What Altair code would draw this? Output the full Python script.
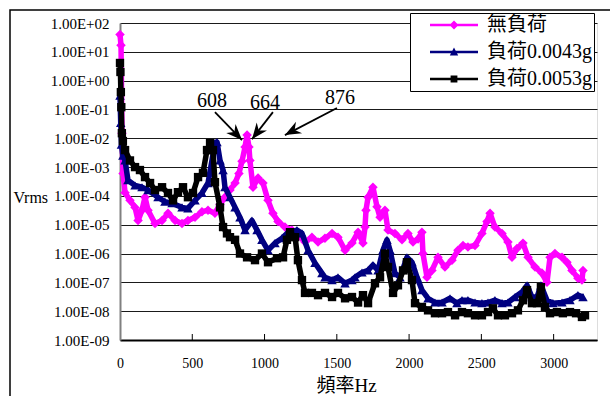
import altair as alt
import pandas as pd

# ---------------- data ----------------
series_names = ["無負荷", "負荷0.0043g", "負荷0.0053g"]
series_colors = ["#FF00FF", "#000080", "#000000"]
series_marks = ["diamond", "triangle-up", "square"]

freq_none = [0, 7, 14, 21, 35, 69, 104, 125, 152, 173, 194, 242, 291, 332, 381, 429, 470, 519, 567,
             609, 657, 692, 726, 761, 796, 823, 844, 865, 879, 892, 899, 920, 955, 989, 1024, 1058,
             1093, 1141, 1190, 1231, 1280, 1328, 1370, 1418, 1467, 1508, 1557, 1605, 1647, 1681,
             1695, 1702, 1716, 1750, 1778, 1799, 1833, 1854, 1902, 1951, 1992, 2027, 2062, 2089,
             2096, 2124, 2158, 2200, 2248, 2297, 2338, 2373, 2407, 2456, 2504, 2539, 2560, 2594,
             2643, 2684, 2712, 2746, 2788, 2823, 2871, 2919, 2954, 2975, 3009, 3058, 3092, 3127,
             3168, 3196, 3203]
vrms_none = [4e1, 1.7e1, 1.5e-2, 6e-4, 1.3e-4, 7e-5, 4e-5, 1.4e-5, 3.2e-5, 9e-5, 3.2e-5, 1.1e-5,
             1.4e-5, 2.5e-5, 1.4e-5, 1.1e-5, 1.4e-5, 1.8e-5, 2.8e-5, 3.2e-5, 2.5e-5, 5e-5, 9e-5,
             1.6e-4, 2.8e-4, 6e-4, 1.6e-3, 5e-3, 1.3e-2, 5e-3, 1.7e-3, 2e-4, 4.2e-4, 2.8e-4, 7e-5,
             2.5e-5, 1.3e-5, 8.3e-6, 6.5e-6, 4.4e-6, 2.5e-6, 3.7e-6, 2.5e-6, 3.4e-6, 5e-6, 3.7e-6,
             1.3e-6, 2.3e-6, 5.5e-6, 2.3e-6, 8.3e-6, 3.2e-5, 9e-5, 2e-4, 4.2e-5, 1.8e-5, 3.2e-5,
             6.5e-6, 5e-6, 3e-6, 5e-6, 2.5e-6, 3.2e-6, 5.5e-6, 1e-6, 1.5e-7, 2.6e-7, 7.4e-7, 3.4e-7,
             5.9e-7, 1.3e-6, 1.9e-6, 1.7e-6, 1.9e-6, 5e-6, 1.3e-5, 2.5e-5, 8.3e-6, 5e-6, 2.5e-6,
             7.4e-7, 1.5e-6, 2.3e-6, 7.4e-7, 3.4e-7, 2.1e-7, 1e-7, 7.4e-7, 1e-6, 7.4e-7, 5e-7,
             2.6e-7, 1.4e-7, 1.2e-7, 2.6e-7]

freq_43 = [0, 5, 10, 20, 35, 55, 104, 152, 194, 263, 311, 360, 429, 470, 519, 567, 609, 657, 671,
           692, 713, 726, 761, 796, 830, 865, 913, 948, 982, 1024, 1072, 1121, 1155, 1224, 1259,
           1301, 1349, 1397, 1418, 1467, 1508, 1557, 1605, 1626, 1674, 1716, 1750, 1785, 1819,
           1847, 1868, 1902, 1937, 1985, 2020, 2055, 2089, 2131, 2179, 2228, 2283, 2331, 2366,
           2407, 2456, 2504, 2546, 2594, 2643, 2684, 2733, 2781, 2816, 2850, 2885, 2912, 2954,
           2995, 3058, 3113, 3168, 3203]
vrms_43 = [3e-1, 3.4e-2, 6e-3, 2.5e-3, 1.7e-3, 3.5e-4, 2.3e-4, 2e-4, 1.6e-4, 9e-5, 6.3e-5, 5.6e-5,
           4e-5, 3.7e-5, 7e-5, 1.26e-4, 2.8e-4, 6.8e-3, 7.4e-3, 1.7e-3, 7.9e-4, 2e-4, 9e-5, 4e-5,
           1.8e-5, 6.5e-6, 1.4e-5, 6.5e-6, 3e-6, 1.3e-6, 2.3e-6, 3.4e-6, 5e-6, 6.5e-6, 5e-6,
           1.3e-6, 4.7e-7, 2.1e-7, 1.5e-7, 1.2e-7, 1.5e-7, 9.3e-8, 1.2e-7, 1.5e-7, 2.2e-7, 2.6e-7,
           4e-7, 2.6e-7, 1.3e-6, 3e-6, 1.3e-6, 2.1e-7, 1.5e-7, 7.4e-7, 5e-7, 1.5e-7, 5.4e-8,
           2.8e-8, 2e-8, 2e-8, 2.8e-8, 1.9e-8, 2.4e-8, 2.4e-8, 2e-8, 1.9e-8, 2e-8, 2.4e-8, 1.9e-8,
           2e-8, 3.1e-8, 4.6e-8, 7.9e-8, 3.1e-8, 3.1e-8, 7.9e-8, 2.4e-8, 1.9e-8, 2e-8, 2.4e-8,
           3.6e-8, 3.1e-8]

freq_53 = [0, 3, 6, 9, 13, 20, 35, 69, 104, 138, 173, 208, 242, 291, 332, 367, 401, 436, 470, 505,
           540, 574, 602, 623, 643, 657, 692, 713, 740, 761, 796, 830, 879, 934, 982, 1024, 1086,
           1128, 1155, 1176, 1211, 1231, 1259, 1280, 1328, 1370, 1418, 1467, 1508, 1557, 1605,
           1647, 1681, 1716, 1764, 1799, 1833, 1854, 1889, 1923, 1958, 1985, 2020, 2041, 2089,
           2131, 2179, 2228, 2269, 2318, 2366, 2407, 2456, 2504, 2546, 2580, 2615, 2663, 2712,
           2753, 2788, 2816, 2850, 2885, 2912, 2940, 2975, 3023, 3064, 3113, 3155, 3196, 3217]
vrms_53 = [4.1, 2.0, 4e-1, 1.2e-1, 1.5e-2, 8e-3, 3.9e-3, 1.7e-3, 1e-3, 7.9e-4, 4.5e-4, 2.8e-4,
           1.6e-4, 2e-4, 1.26e-4, 7e-5, 1.35e-4, 2e-4, 9e-5, 1.26e-4, 4.5e-4, 6.3e-4, 3.9e-3,
           6.8e-3, 3.9e-3, 3e-4, 4e-5, 8.3e-6, 5e-6, 3.7e-6, 3e-6, 1e-6, 7.4e-7, 5.9e-7, 1e-6,
           5e-7, 6.9e-7, 7.4e-7, 3e-6, 5.5e-6, 3.7e-6, 5.9e-7, 1.2e-7, 4.3e-8, 4.3e-8, 3.6e-8,
           4.3e-8, 3.1e-8, 4.3e-8, 2.8e-8, 3.1e-8, 2e-8, 3.6e-8, 1.9e-8, 9.3e-8, 1.5e-7, 1e-6,
           3.4e-7, 4.3e-8, 7.9e-8, 2.6e-7, 5e-7, 1.2e-7, 1.9e-8, 1.4e-8, 1.07e-8, 8.5e-9, 8.5e-9,
           9.3e-9, 7.2e-9, 9.3e-9, 8.5e-9, 7.2e-9, 7.2e-9, 9.3e-9, 1.26e-8, 7.2e-9, 7.2e-9,
           8.5e-9, 1.07e-8, 2.4e-8, 5.4e-8, 1.9e-8, 1.9e-8, 6.8e-8, 1.4e-8, 8.5e-9, 9.3e-9,
           8.5e-9, 9.3e-9, 8.5e-9, 6.3e-9, 7.2e-9]

x_tick_values = [0, 500, 1000, 1500, 2000, 2500, 3000]
y_tick_values = [1e-9, 1e-8, 1e-7, 1e-6, 1e-5, 1e-4, 1e-3, 1e-2, 1e-1, 1e0, 1e1, 1e2]

ann_labels = ["608", "664", "876"]
ann_freq = [636, 1003, 1522]
ann_vrms = [0.196, 0.167, 0.249]

arrow_start_freq = [657, 1058, 1501]
arrow_start_vrms = [0.081, 0.081, 0.112]
arrow_tip_freq = [844, 913, 1141]
arrow_tip_vrms = [8.7e-3, 9.3e-3, 1.29e-2]
arrow_angle = [136, 218, 242]

# ---------------- build ----------------
FONT = "Liberation Serif, Noto Sans CJK TC"

rows = []
for name, fs, vs in [(series_names[0], freq_none, vrms_none),
                     (series_names[1], freq_43, vrms_43),
                     (series_names[2], freq_53, vrms_53)]:
    for f, v in zip(fs, vs):
        rows.append({"series": name, "freq": f, "vrms": v})
df = pd.DataFrame(rows)

xscale = alt.Scale(domain=[0, 3300], nice=False, zero=False)
yscale = alt.Scale(type="log", domain=[1e-9, 1e2], nice=False)

x_axis = alt.Axis(values=x_tick_values, format="d", ticks=False, grid=False,
                  domainColor="black", domainWidth=2, labelFont=FONT, labelFontSize=14,
                  labelColor="black", labelPadding=16, labelFlush=False,
                  titleFont=FONT, titleFontSize=19, titleFontWeight="normal", titleColor="black",
                  titleX=226, titleY=45, titleBaseline="middle", titleAlign="center")
label_expr = ("'1.00E' + (datum.value >= 1 ? '+' : '-') + "
              "(abs(round(log(datum.value)/LN10)) < 10 ? '0' : '') + abs(round(log(datum.value)/LN10))")
y_axis = alt.Axis(values=y_tick_values, labelExpr=label_expr, ticks=False, grid=True,
                  gridColor="#1a1a1a", gridWidth=1, domainColor="#808080", domainWidth=2,
                  labelFont=FONT, labelFontSize=15, labelColor="black", labelPadding=11,
                  titleAngle=0, titleX=-107, titleY=174, titleAlign="left", titleBaseline="middle",
                  titleFont=FONT, titleFontSize=16, titleFontWeight="normal", titleColor="black")


def X(field):
    return alt.X(f"{field}:Q", scale=xscale, axis=x_axis, title="頻率Hz")


def Y(field):
    return alt.Y(f"{field}:Q", scale=yscale, axis=y_axis, title="Vrms")


layers = []

# outer frame of the chart
frame = alt.Chart(pd.DataFrame({"k": [0]})).mark_rect(
    fill="white", fillOpacity=0, stroke="black", strokeWidth=1.5
).encode(x=alt.value(-110), x2=alt.value(500), y=alt.value(-13), y2=alt.value(387))
layers.append(frame)

for name, col, shp in zip(series_names, series_colors, series_marks):
    sub = alt.Chart(df).transform_filter(alt.datum.series == name)
    layers.append(sub.mark_line(color=col, strokeWidth=5.5, strokeJoin="round")
                  .encode(x=X("freq"), y=Y("vrms")))
    size = 70 if shp == "square" else 90
    layers.append(sub.mark_point(shape=shp, filled=True, color=col, opacity=1, size=size)
                  .encode(x=X("freq"), y=Y("vrms")))

# inward ticks on the x axis
tick_df = pd.DataFrame({"freq": x_tick_values[1:]})
layers.append(alt.Chart(tick_df).mark_rule(color="black", strokeWidth=1)
              .encode(x=X("freq"), y=alt.value(317), y2=alt.value(311)))

# annotations
ann_df = pd.DataFrame({"label": ann_labels, "freq": ann_freq, "vrms": ann_vrms})
layers.append(alt.Chart(ann_df).mark_text(font="Liberation Serif", fontSize=20, color="black",
                                          align="center", baseline="middle")
              .encode(x=X("freq"), y=Y("vrms"), text="label:N"))

arrow_df = pd.DataFrame({"freq": arrow_start_freq, "vrms": arrow_start_vrms,
                         "freq2": arrow_tip_freq, "vrms2": arrow_tip_vrms, "angle": arrow_angle})
layers.append(alt.Chart(arrow_df).mark_rule(color="black", strokeWidth=1.8)
              .encode(x=X("freq"), y=Y("vrms"), x2="freq2:Q", y2="vrms2:Q"))
head_path = "M0,0L1.3,3.2L0,2.2L-1.3,3.2Z"
layers.append(alt.Chart(arrow_df).mark_point(shape=head_path, filled=True, color="black",
                                             opacity=1, size=100)
              .encode(x=X("freq2"), y=Y("vrms2"), angle=alt.Angle("angle:Q", scale=None)))

# legend (custom symbols: line + marker)
legend_paths = [
    "M0.8,-0.13H5.6V0.13H0.8Z M3.2,-0.45L3.65,0L3.2,0.45L2.75,0Z",
    "M0.8,-0.13H5.6V0.13H0.8Z M3.2,-0.45L3.62,0.35L2.78,0.35Z",
    "M0.8,-0.13H5.6V0.13H0.8Z M2.86,-0.34H3.54V0.34H2.86Z",
]
leg = alt.Legend(title=None, orient="none", legendX=290, legendY=-10, padding=2,
                 fillColor="white", strokeColor="black", labelFont=FONT, labelFontSize=20,
                 labelColor="black", symbolSize=400, symbolStrokeWidth=0, symbolOpacity=1,
                 rowPadding=7, labelOffset=55)
layers.append(alt.Chart(df).mark_point(filled=True, opacity=0).encode(
    x=X("freq"), y=Y("vrms"),
    fill=alt.Fill("series:N", scale=alt.Scale(domain=series_names, range=series_colors), legend=leg),
    shape=alt.Shape("series:N", scale=alt.Scale(domain=series_names, range=legend_paths), legend=leg),
))

chart = alt.layer(*layers).properties(
    width=477, height=317,
    autosize=alt.AutoSizeParams(type="none"),
    padding={"left": 120, "top": 23, "right": 13, "bottom": 56},
).configure_view(stroke="#8c8c8c", strokeWidth=2).configure(font="Liberation Serif")

chart.save("out.html", embed_options={"renderer": "svg", "actions": False})
